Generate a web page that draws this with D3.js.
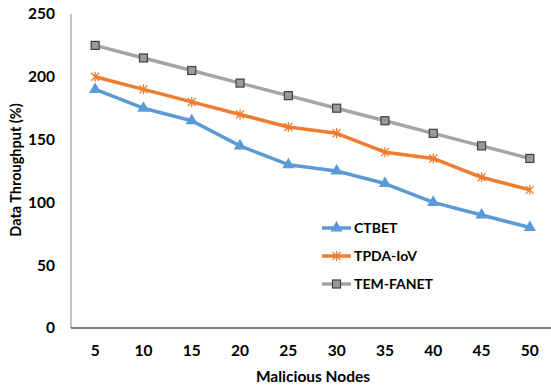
<!DOCTYPE html>
<html>
<head>
<meta charset="utf-8">
<script src="https://cdn.jsdelivr.net/npm/d3@7"></script>
<style>
  body { margin: 0; background: #fff; }
  text { font-family: Lato, "Open Sans", sans-serif; font-weight: bold; fill: #000; }
</style>
</head>
<body>
<div id="chart"></div>
<script>
const nodes = ['5', '10', '15', '20', '25', '30', '35', '40', '45', '50'];
const ctbet = [190, 175, 165, 145, 130, 125, 115, 100, 90, 80];
const tpda = [200, 190, 180, 170, 160, 155, 140, 135, 120, 110];
const temFanet = [225, 215, 205, 195, 185, 175, 165, 155, 145, 135];
const yTicks = [0, 50, 100, 150, 200, 250];

const series = [
  { name: 'CTBET', values: ctbet, color: '#5B9BD5', marker: 'triangle' },
  { name: 'TPDA-IoV', values: tpda, color: '#ED7D31', marker: 'star' },
  { name: 'TEM-FANET', values: temFanet, color: '#A5A5A5', marker: 'square' }
];

const width = 551, height = 388;
const svg = d3.select('#chart').append('svg')
  .attr('width', width).attr('height', height);

const x = d3.scaleBand().domain(nodes).range([71, 554]);
const y = d3.scaleLinear().domain([0, 250]).range([328, 14]);

// y axis
svg.append('line')
  .attr('x1', 71).attr('x2', 71).attr('y1', y(250)).attr('y2', y(0))
  .attr('stroke', '#868686').attr('stroke-width', 1);
svg.append('g').selectAll('text')
  .data(yTicks).join('text')
  .attr('x', 55).attr('y', d => y(d))
  .attr('dy', '0.35em').attr('text-anchor', 'end')
  .style('font-size', '15.5px')
  .text(d => d);

// x axis
svg.append('line')
  .attr('x1', 71).attr('x2', 551).attr('y1', y(0)).attr('y2', y(0))
  .attr('stroke', '#000').attr('stroke-width', 1.2);
svg.append('g').selectAll('text')
  .data(nodes).join('text')
  .attr('x', d => x(d) + x.bandwidth() / 2).attr('y', 351)
  .attr('dy', '0.35em').attr('text-anchor', 'middle')
  .style('font-size', '15.5px')
  .text(d => d);

svg.append('text')
  .attr('x', 313).attr('y', 377).attr('dy', '0.35em')
  .attr('text-anchor', 'middle').style('font-size', '15.5px')
  .text('Malicious Nodes');

svg.append('text')
  .attr('transform', `translate(16,${y(125) - 1}) rotate(-90)`)
  .attr('dy', '0.35em').attr('text-anchor', 'middle')
  .style('font-size', '14.5px')
  .text('Data Throughput (%)');

const cx = d => x(d) + x.bandwidth() / 2;

function drawMarker(g, type, color) {
  if (type === 'triangle') {
    g.append('path').attr('d', d3.symbol(d3.symbolTriangle, 65)())
      .attr('fill', color);
  } else if (type === 'star') {
    g.append('path').attr('d', 'M-4,-4L4,4M-4,4L4,-4M0,-5L0,5')
      .attr('stroke', color).attr('stroke-width', 1.3).attr('fill', 'none');
  } else {
    g.append('rect').attr('x', -4).attr('y', -4).attr('width', 8).attr('height', 8)
      .attr('fill', '#999').attr('stroke', '#404040').attr('stroke-width', 1.2);
  }
}

const line = d3.line().x((d, i) => cx(nodes[i])).y(d => y(d));

series.forEach(s => {
  svg.append('path')
    .attr('d', line(s.values))
    .attr('fill', 'none').attr('stroke', s.color)
    .attr('stroke-width', 3.5).attr('stroke-linejoin', 'round');
  s.values.forEach((v, i) => {
    const g = svg.append('g').attr('transform', `translate(${cx(nodes[i])},${y(v)})`);
    drawMarker(g, s.marker, s.color);
  });
});

// legend
const legend = svg.append('g');
series.forEach((s, i) => {
  const ly = 228 + i * 28;
  legend.append('line')
    .attr('x1', 322).attr('x2', 351).attr('y1', ly).attr('y2', ly)
    .attr('stroke', s.color).attr('stroke-width', 3.5);
  const g = legend.append('g').attr('transform', `translate(336.5,${ly})`);
  drawMarker(g, s.marker, s.color);
  legend.append('text')
    .attr('x', 354).attr('y', ly).attr('dy', '0.35em')
    .style('font-size', '14px')
    .text(s.name);
});
</script>
</body>
</html>
